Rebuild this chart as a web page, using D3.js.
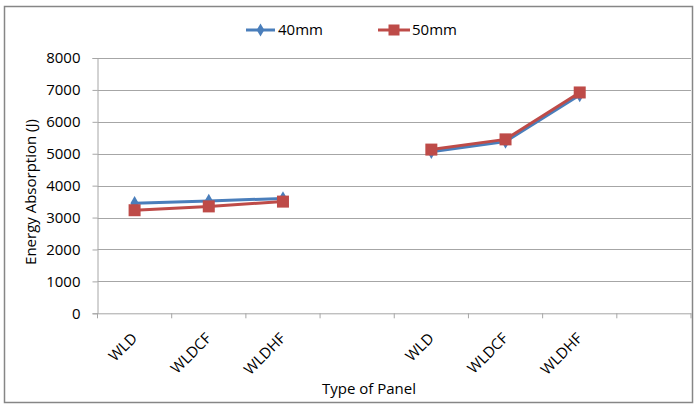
<!DOCTYPE html>
<html><head><meta charset="utf-8">
<script src="https://cdn.jsdelivr.net/npm/d3@7"></script>
<style>body{margin:0;background:#fff;} text{font-family:"Open Sans",sans-serif;fill:#000;}</style>
</head><body><svg id="c" width="696" height="405"></svg>
<script>
const categories = ["WLD","WLDCF","WLDHF","","WLD","WLDCF","WLDHF",""];
const series40 = [3450, 3520, 3600, null, 5060, 5380, 6840, null];
const series50 = [3230, 3350, 3500, null, 5130, 5450, 6920, null];
const yTicks = [0,1000,2000,3000,4000,5000,6000,7000,8000];
const seriesNames = ["40mm","50mm"];

const svg = d3.select("#c");
svg.append("rect").attr("x",4.5).attr("y",6.5).attr("width",688).attr("height",396)
  .attr("fill","#fff").attr("stroke","#868686").attr("stroke-width",1.5);

const L=97.5, R=691, T=58, B=313.3;
const x = d3.scaleBand().domain(d3.range(categories.length)).range([L,R]);
const y = d3.scaleLinear().domain([0,8000]).range([B,T]);

// gridlines
svg.append("g").selectAll("line").data(yTicks.slice(1)).join("line")
  .attr("x1",L).attr("x2",R).attr("y1",d=>Math.round(y(d))+0.5).attr("y2",d=>Math.round(y(d))+0.5)
  .attr("stroke","#a6a6a6").attr("stroke-width",1);

// y axis
const ya = svg.append("g").attr("transform",`translate(${L},0)`)
  .call(d3.axisLeft(y).tickValues(yTicks).tickFormat(d3.format("d")).tickSize(5).tickPadding(12));
ya.select(".domain").attr("stroke","#a6a6a6");
ya.selectAll(".tick line").attr("stroke","#a6a6a6");
ya.selectAll(".tick text").attr("font-size",15).attr("font-family","Open Sans").attr("fill","#000");

// x axis
const xa = svg.append("g").attr("transform",`translate(0,${B})`)
  .call(d3.axisBottom(x).tickSize(0).tickFormat(""));
xa.select(".domain").attr("stroke","#a6a6a6");
const bounds = d3.range(categories.length+1).map(i=>L + i*x.step());
svg.append("g").selectAll("line").data(bounds).join("line")
  .attr("x1",d=>d).attr("x2",d=>d).attr("y1",B).attr("y2",B+5).attr("stroke","#a6a6a6");
svg.append("g").selectAll("text").data(categories.map((c,i)=>({c,i}))).join("text")
  .attr("transform",d=>`translate(${x(d.i)+x.bandwidth()/2+3.5},${B+26}) rotate(-45)`)
  .attr("text-anchor","end").attr("font-size",15).text(d=>d.c);

// axis titles
svg.append("text").attr("x",369).attr("y",394).attr("text-anchor","middle").attr("font-size",15).text("Type of Panel");
svg.append("text").attr("transform","translate(36,192) rotate(-90)").attr("text-anchor","middle")
  .attr("font-size",15).text("Energy Absorption (J)");

const colors = ["#4a7ebb","#be4b48"];
const cx = i => x(i)+x.bandwidth()/2;
const line = d3.line().defined(d=>d.v!=null).x(d=>cx(d.i)).y(d=>y(d.v));
[series40, series50].forEach((s,k)=>{
  const pts = s.map((v,i)=>({v,i}));
  svg.append("path").datum(pts).attr("d",line).attr("fill","none")
    .attr("stroke",colors[k]).attr("stroke-width",3).attr("stroke-linejoin","round");
  const g = svg.append("g");
  pts.filter(d=>d.v!=null).forEach(d=>{
    if(k===0){
      g.append("path").attr("d",d3.symbol(d3.symbolDiamond,60)()).attr("transform",`translate(${cx(d.i)},${y(d.v)})`)
        .attr("fill",colors[k]);
    } else {
      g.append("rect").attr("x",cx(d.i)-6).attr("y",y(d.v)-6).attr("width",12).attr("height",12).attr("fill",colors[k]);
    }
  });
});

// legend
const leg = [{x1:246,x2:275,tx:278},{x1:378,x2:410,tx:412}];
seriesNames.forEach((n,k)=>{
  const l = leg[k];
  svg.append("line").attr("x1",l.x1).attr("x2",l.x2).attr("y1",30).attr("y2",30).attr("stroke",colors[k]).attr("stroke-width",3);
  const mx=(l.x1+l.x2)/2;
  if(k===0) svg.append("path").attr("d",d3.symbol(d3.symbolDiamond,50)()).attr("transform",`translate(${mx},30)`).attr("fill",colors[k]);
  else svg.append("rect").attr("x",mx-5.5).attr("y",24.5).attr("width",11).attr("height",11).attr("fill",colors[k]);
  svg.append("text").attr("x",l.tx).attr("y",35).attr("font-size",15).text(n);
});
</script></body></html>
